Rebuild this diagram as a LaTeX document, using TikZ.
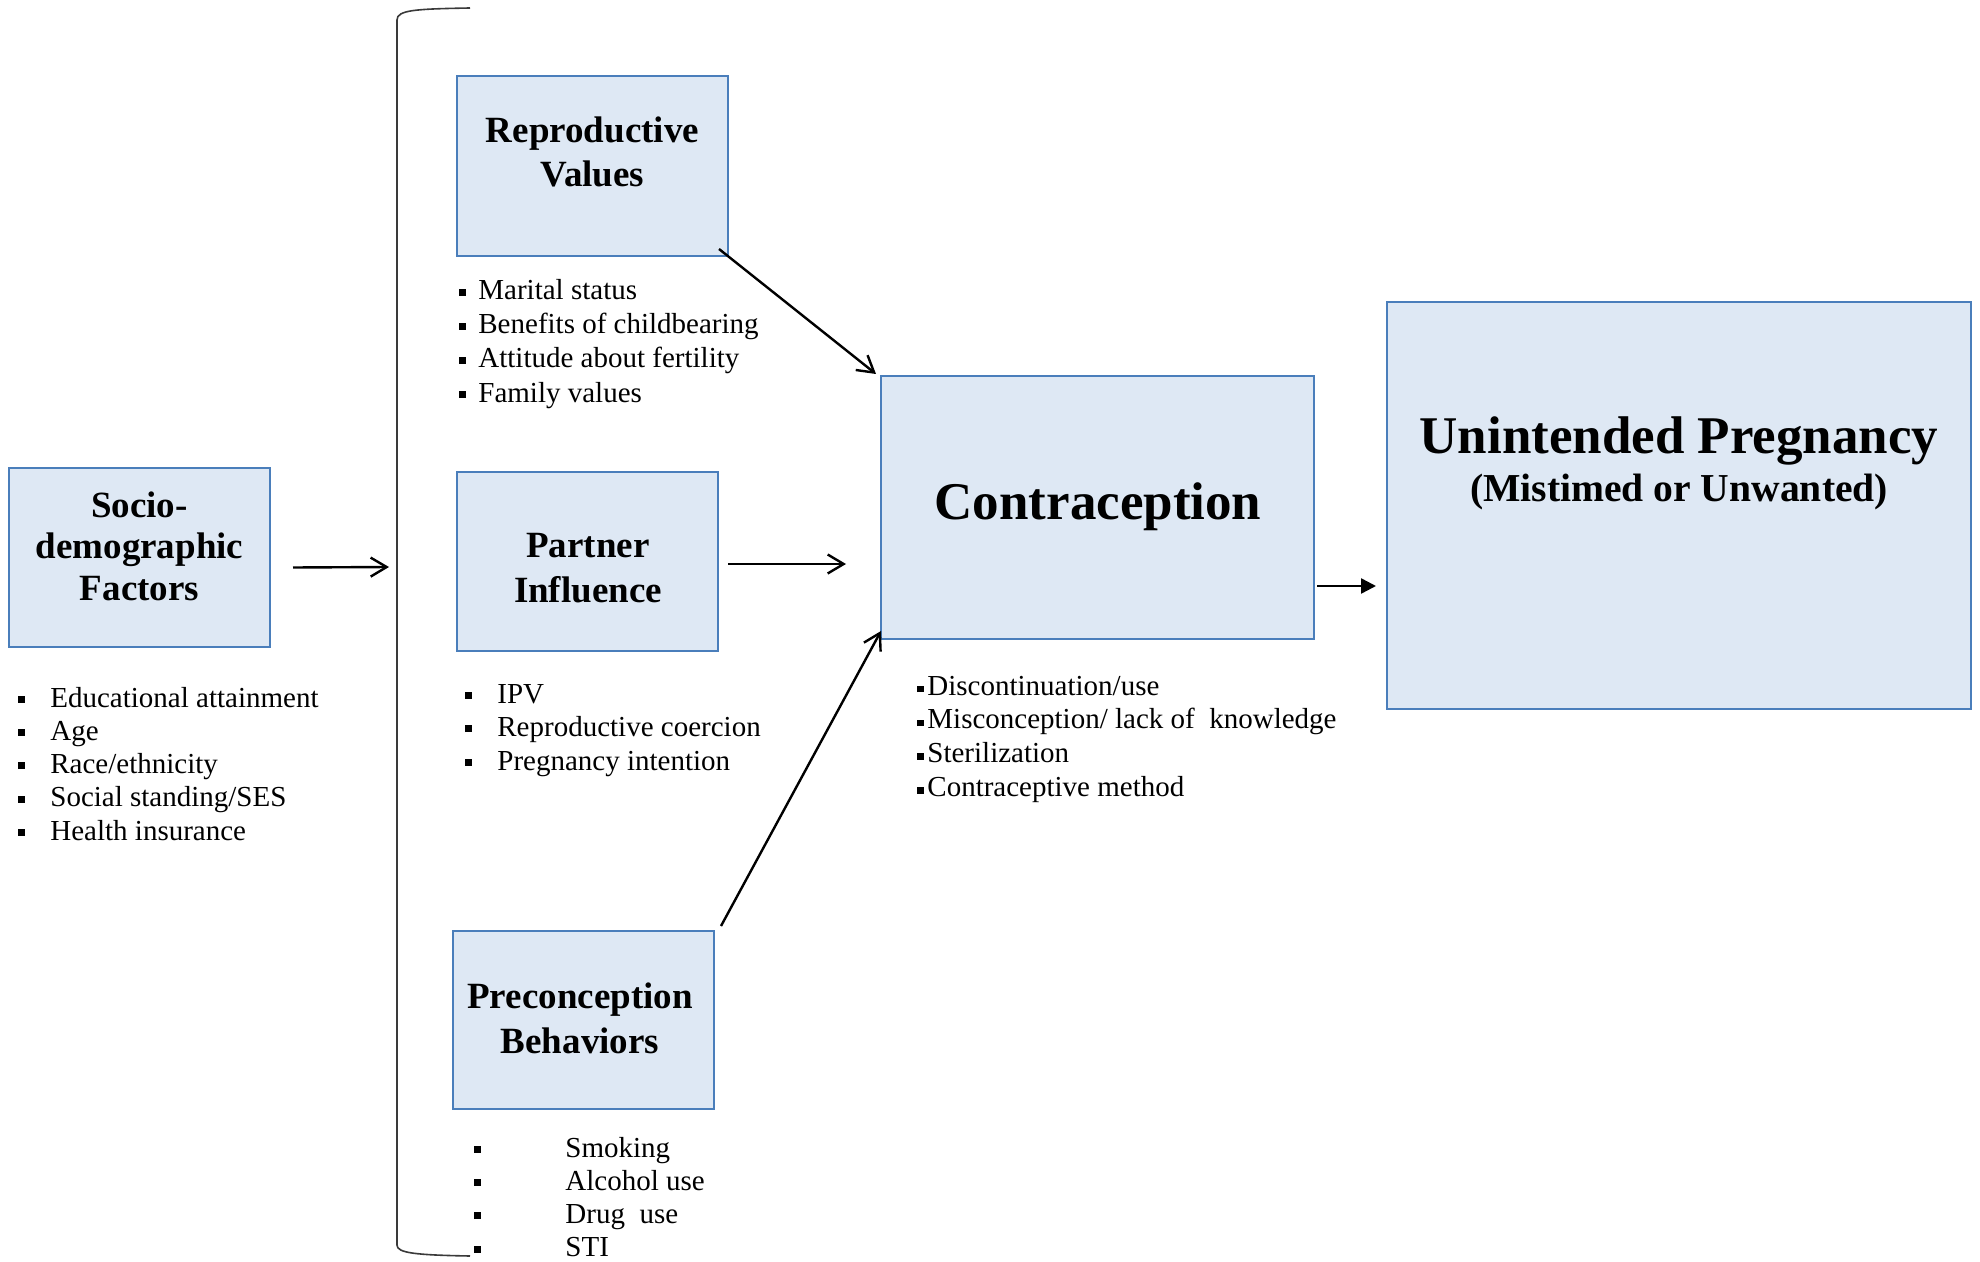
\documentclass[tikz,border=0pt]{standalone}
\usepackage{fontspec}
\setmainfont{Liberation Serif}
\usetikzlibrary{arrows.meta}
\definecolor{boxfill}{HTML}{DEE8F4}
\definecolor{boxline}{HTML}{4A7EBB}
\definecolor{brk}{HTML}{3A3A3A}
\newcommand\sqb{\rule[2.2pt]{3.4pt}{3.4pt}}
\newcommand\sqs{\rule[1.4pt]{3.2pt}{3.2pt}}
% #1 name prefix, #2 bullet macro, #3 bullet offset, #4 x, #5 first baseline, #6 step, #7 items
\newcommand\itemlist[7]{%
  \foreach \t [count=\i] in {#7} {%
    \node[item, anchor=base west] (#1\i) at (#4, {#5+#6*(\i-1)}) {\llap{\makebox[#3][l]{#2}}\t};
  }}
\newcommand\pbox[5]{%
  \node[pbox, minimum width={(#4-#2)*0.5pt}, minimum height={(#5-#3)*0.5pt}] (#1) at ({(#2+#4)/2},{(#3+#5)/2}) {};}
\begin{document}
\begin{tikzpicture}[x=0.5pt,y=-0.5pt,
  pbox/.style={draw=boxline, fill=boxfill, line width=1pt, inner sep=0pt},
  ttl/.style={font=\fontsize{18.5}{21}\selectfont\bfseries, inner sep=0pt},
  item/.style={font=\fontsize{14.5}{17}\selectfont, inner sep=0pt},
  arr/.style={line width=1.2pt, -{Straight Barb[length=8pt,width=9.5pt,line width=1.2pt]}},
  farr/.style={line width=1.2pt, -{Triangle[length=7.5pt,width=7.5pt]}}]
\fill[white] (0,0) rectangle (1980,1262);
\useasboundingbox (0,0) rectangle (1980,1262);

% boxes
\pbox{sd}{9}{468}{270}{647}
\pbox{rv}{457}{76}{728}{256}
\pbox{pi}{457}{472}{718}{651}
\pbox{pb}{453}{931}{714}{1109}
\pbox{con}{881}{376}{1314}{639}
\pbox{up}{1387}{302}{1971}{709}

% titles
\node[ttl, anchor=base] (sdt1) at (139.5,517) {Socio-};
\node[ttl, anchor=base] (sdt2) at (139.5,558) {demographic};
\node[ttl, anchor=base] (sdt3) at (139.5,600) {Factors};
\node[ttl, anchor=base] (rvt1) at (592.5,143) {Reproductive};
\node[ttl, anchor=base] (rvt2) at (592.5,187) {Values};
\node[ttl, anchor=base] (pit1) at (588,557) {Partner};
\node[ttl, anchor=base] (pit2) at (588,602) {Influence};
\node[ttl, anchor=base] (pbt1) at (580,1008) {Preconception};
\node[ttl, anchor=base] (pbt2) at (580,1053) {Behaviors};
\node[inner sep=0pt, anchor=base, font=\fontsize{26.5}{30}\selectfont\bfseries] (cont) at (1098,519) {Contraception};
\node[inner sep=0pt, anchor=base, font=\fontsize{26.5}{30}\selectfont\bfseries] (upt1) at (1679,453) {Unintended Pregnancy};
\node[inner sep=0pt, anchor=base, font=\fontsize{19.8}{22}\selectfont\bfseries] (upt2) at (1679,501) {(Mistimed or Unwanted)};

% lists
\itemlist{sdl}{\sqb}{16pt}{50}{707}{33.3}{Educational attainment,Age,Race/ethnicity,Social standing/SES,Health insurance}
\itemlist{rvl}{\sqb}{9.5pt}{478}{300}{34}{Marital status,Benefits of childbearing,Attitude about fertility,Family values}
\itemlist{pil}{\sqb}{16pt}{497}{703}{33.5}{IPV,Reproductive coercion,Pregnancy intention}
\itemlist{pbl}{\sqb}{45.5pt}{565}{1157}{33.3}{Smoking,Alcohol use,Drug\ \ use,STI}
\itemlist{conl}{\sqs}{5pt}{927}{695}{33.8}{Discontinuation/use,Misconception/ lack of\ \ knowledge,Sterilization,Contraceptive method}

% bracket
\draw[brk, line width=0.8pt] (470,8) .. controls (415,9) and (397,10) .. (397,20)
  -- (397,1245) .. controls (397,1253) and (415,1255) .. (470,1256);

% connectors
\coordinate (brkin) at (389,567);
\coordinate (piend) at (846,564);
\coordinate (conend) at (1376,586);
\draw[arr] ([shift={(22,10)}]sd.east) -- (brkin);
\draw[arr] ([shift={(-10,-8)}]rv.south east) -- ([shift={(-4,-1)}]con.north west);
\draw[arr] ([shift={(9,2.5)}]pi.east) -- (piend);
\draw[arr] ([shift={(6,-4)}]pb.north east) -- ([shift={(1,-9)}]con.south west);
\draw[farr] ([shift={(2,78.5)}]con.east) -- (conend);
\end{tikzpicture}
\end{document}
